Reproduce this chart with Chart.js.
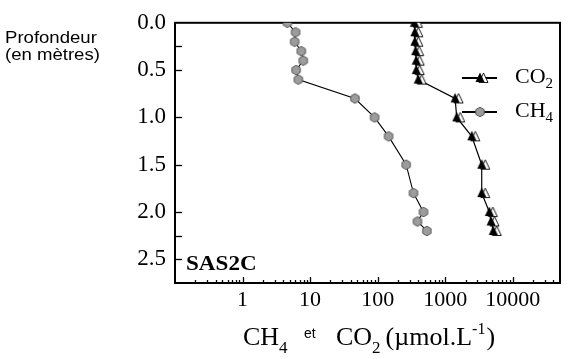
<!DOCTYPE html>
<html><head><meta charset="utf-8">
<script src="https://cdn.jsdelivr.net/npm/chart.js@4/dist/chart.umd.min.js"></script>
<style>html,body{margin:0;padding:0;background:#fff}</style>
</head><body>
<canvas id="c" width="570" height="359"></canvas>
<script>
// ---- data ----
const depths = [0, 0.1, 0.2, 0.3, 0.4, 0.5, 0.6, 0.8, 1.0, 1.2, 1.5, 1.8, 2.0, 2.1, 2.2];
const ch4Values = [4.6, 6.1, 5.9, 7.4, 7.9, 6.2, 6.7, 46, 90, 145, 264, 339, 476, 388, 535];
const co2Values = [350, 355, 355, 365, 372, 372, 398, 1400, 1480, 2470, 3470, 3470, 4500, 4760, 5150];
const xTickLabels = [1, 10, 100, 1000, 10000];
const yTickLabels = [0, 0.5, 1.0, 1.5, 2.0, 2.5];
const yMinorTicks = [0.25, 2.25];
const seriesNames = ['CO', 'CH'];
const seriesSubs = ['2', '4'];
const stationName = 'SAS2C';

// ---- marker images ----
function hexMarker() {
  const c = document.createElement('canvas'); c.width = 12; c.height = 12;
  const g = c.getContext('2d');
  g.beginPath();
  for (let i = 0; i < 6; i++) {
    const a = Math.PI / 6 + i * Math.PI / 3;
    const px = 6 + 4.8 * Math.cos(a), py = 6 + 4.8 * Math.sin(a);
    i ? g.lineTo(px, py) : g.moveTo(px, py);
  }
  g.closePath();
  g.fillStyle = '#9c9c9c'; g.fill();
  g.strokeStyle = '#5a5a5a'; g.lineWidth = 1; g.stroke();
  return c;
}
function triMarker() {
  const c = document.createElement('canvas'); c.width = 20; c.height = 14;
  const g = c.getContext('2d');
  function tri(cx, cy) {
    g.beginPath();
    g.moveTo(cx, cy - 5.5); g.lineTo(cx + 4.5, cy + 4); g.lineTo(cx - 4.5, cy + 4); g.closePath();
  }
  tri(13.5, 7.5); g.fillStyle = '#fff'; g.fill(); g.strokeStyle = '#000'; g.lineWidth = 0.9; g.stroke();
  tri(10, 7); g.fillStyle = '#000'; g.fill();
  return c;
}
const hexImg = hexMarker();
const triImg = triMarker();

const co2Points = depths.map((d, i) => ({ x: co2Values[i], y: d }));
const ch4Points = depths.map((d, i) => ({ x: ch4Values[i], y: d }));

const serif = '"Liberation Serif", "Times New Roman", Times, serif';
const sans = '"Liberation Sans", Arial, Helvetica, sans-serif';

const decor = {
  id: 'decor',
  beforeDatasetsDraw(chart) {
    const { ctx, chartArea: a, scales: { x, y } } = chart;
    ctx.save();
    ctx.strokeStyle = '#000';
    ctx.lineWidth = 1.3;
    [...yTickLabels, ...yMinorTicks].forEach(v => {
      const py = Math.round(y.getPixelForValue(v)) + 0.5;
      if (v === 0) return;
      ctx.beginPath(); ctx.moveTo(a.left, py); ctx.lineTo(a.left + 7, py); ctx.stroke();
    });
    x.ticks.forEach(t => {
      const px = Math.round(x.getPixelForValue(t.value)) + 0.5;
      if (px <= a.left + 1 || px >= a.right - 1) return;
      const len = xTickLabels.includes(t.value) ? 6 : 3;
      ctx.beginPath(); ctx.moveTo(px, a.bottom); ctx.lineTo(px, a.bottom - len); ctx.stroke();
    });
    ctx.lineWidth = 2;
    ctx.strokeRect(a.left, a.top, a.right - a.left, a.bottom - a.top);
    ctx.restore();
  },
  afterDraw(chart) {
    const { ctx } = chart;
    ctx.save();
    ctx.fillStyle = '#000';
    ctx.textBaseline = 'alphabetic';
    ctx.font = '16px ' + sans;
    ctx.save(); ctx.translate(5, 43); ctx.scale(1.16, 1); ctx.fillText('Profondeur', 0, 0); ctx.restore();
    ctx.save(); ctx.translate(5, 60); ctx.scale(1.16, 1); ctx.fillText('(en mètres)', 0, 0); ctx.restore();
    let px = 243;
    ctx.font = '26px ' + serif; ctx.fillText('CH', px, 345); px += ctx.measureText('CH').width;
    ctx.font = '17px ' + serif; ctx.fillText('4', px, 353);
    ctx.font = '14px ' + sans; ctx.fillText('et', 304, 338);
    px = 336;
    ctx.font = '26px ' + serif; ctx.fillText('CO', px, 345); px += ctx.measureText('CO').width;
    ctx.font = '17px ' + serif; ctx.fillText('2', px, 353); px += ctx.measureText('2').width + 5;
    ctx.font = '26px ' + serif; ctx.fillText('(µmol.L', px, 345); px += ctx.measureText('(µmol.L').width;
    ctx.font = '16px ' + serif; ctx.fillText('-1', px, 334); px += ctx.measureText('-1').width + 1;
    ctx.font = '26px ' + serif; ctx.fillText(')', px, 345);
    ctx.save(); ctx.translate(186, 270); ctx.scale(1.1, 1);
    ctx.font = 'bold 21px ' + serif; ctx.fillText(stationName, 0, 0); ctx.restore();
    const rows = [{ y: 78, img: triImg, base: 83 }, { y: 112, img: hexImg, base: 117 }];
    rows.forEach((r, i) => {
      ctx.strokeStyle = '#000'; ctx.lineWidth = 2;
      ctx.beginPath(); ctx.moveTo(462, r.y); ctx.lineTo(497, r.y); ctx.stroke();
      ctx.drawImage(r.img, 480 - r.img.width / 2, r.y - r.img.height / 2);
      let lx = 515;
      ctx.font = '22px ' + serif; ctx.fillText(seriesNames[i], lx, r.base); lx += ctx.measureText(seriesNames[i]).width;
      ctx.font = '15px ' + serif; ctx.fillText(seriesSubs[i], lx, r.base + 5);
    });
    ctx.restore();
  }
};

function build() {
  new Chart(document.getElementById('c'), {
    type: 'scatter',
    data: {
      datasets: [
        { label: 'CH4', data: ch4Points, showLine: true, borderColor: '#000', borderWidth: 1.1,
          pointStyle: hexImg, pointRadius: 5, backgroundColor: '#9c9c9c' },
        { label: 'CO2', data: co2Points, showLine: true, borderColor: '#000', borderWidth: 1.2,
          pointStyle: triImg, pointRadius: 5, backgroundColor: '#000' }
      ]
    },
    options: {
      responsive: false,
      devicePixelRatio: 1,
      animation: false,
      layout: { padding: { top: 20, right: 10, left: 0, bottom: 0 } },
      plugins: { legend: { display: false }, tooltip: { enabled: false } },
      scales: {
        x: {
          type: 'logarithmic', position: 'bottom', min: 0.1, max: 50000,
          grid: { display: false, drawTicks: false }, border: { display: false },
          afterBuildTicks(s) {
            const t = [];
            for (let d = -1; d <= 4; d++) for (let k = 1; k <= 9; k++) {
              const v = +(k * Math.pow(10, d)).toPrecision(6);
              if (v >= 0.1 && v <= 50000) t.push({ value: v, major: k === 1 });
            }
            s.ticks = t;
          },
          afterFit(s) { s.height = 76; },
          ticks: {
            autoSkip: false, maxRotation: 0, padding: 4, color: '#000',
            font: { family: serif, size: 22 },
            callback: v => xTickLabels.includes(v) ? String(v) : ''
          }
        },
        y: {
          type: 'linear', reverse: true, min: 0, max: 2.75,
          grid: { display: false, drawTicks: false }, border: { display: false },
          afterBuildTicks(s) {
            s.ticks = [...yTickLabels, ...yMinorTicks].sort((a, b) => a - b).map(v => ({ value: v }));
          },
          afterFit(s) { s.width = 175; },
          ticks: {
            autoSkip: false, padding: 9, color: '#000',
            font: { family: serif, size: 23 },
            callback: v => yTickLabels.includes(v) ? v.toFixed(1) : ''
          }
        }
      }
    },
    plugins: [decor]
  });
}
const fontLoads = ['22px "Liberation Serif"', 'bold 21px "Liberation Serif"', '16px "Liberation Sans"']
  .map(f => document.fonts && document.fonts.load ? document.fonts.load(f) : Promise.resolve());
Promise.all(fontLoads).then(build, build);
</script>
</body></html>
